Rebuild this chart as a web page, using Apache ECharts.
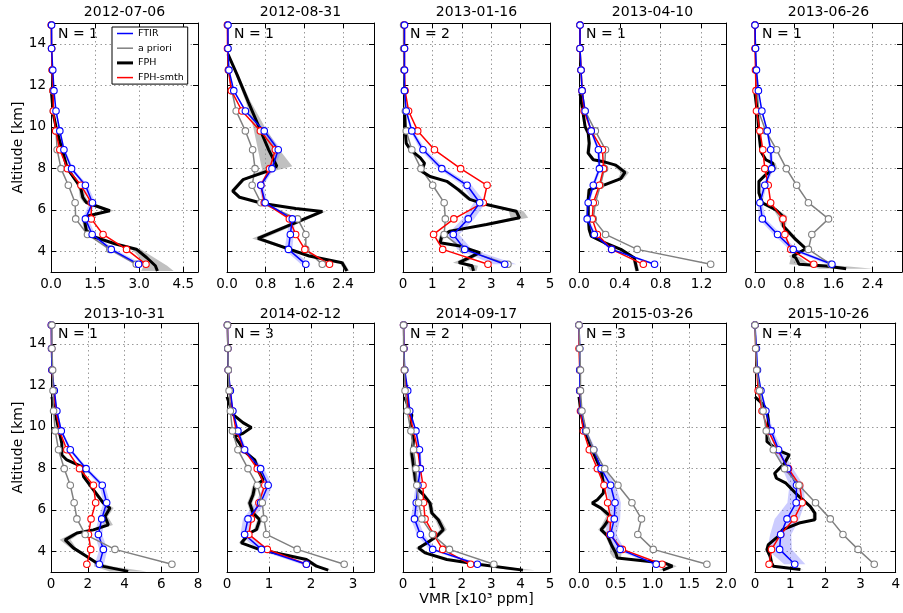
<!DOCTYPE html>
<html lang="en">
<head>
<meta charset="UTF-8">
<title>FTIR / FPH water vapour profiles</title>
<script src="https://cdn.jsdelivr.net/npm/echarts@6/dist/echarts.min.js"></script>
<style>
    html, body { margin: 0; padding: 0; background: #fff; }
    #chart { width: 903px; height: 613px; }
</style>
</head>
<body>
<div id="chart"></div>
<script>
// one entry per panel, left to right, top row then bottom row
var dates = ['2012-07-06', '2012-08-31', '2013-01-16', '2013-04-10', '2013-06-26',
             '2013-10-31', '2014-02-12', '2014-09-17', '2015-03-26', '2015-10-26'];
var nSondes = [1, 1, 2, 1, 1, 1, 3, 2, 3, 4];
var xMax = [5, 3.04, 5, 1.44, 3, 8, 3.5, 5, 2, 4];
var xStep = [1.5, 0.8, 1, 0.4, 0.8, 2, 1, 1, 0.5, 1];
var xDigits = [1, 1, 0, 1, 1, 0, 0, 0, 1, 0];

// retrieval levels [km]
var levels = [14.9, 13.77, 12.73, 11.74, 10.76, 9.8, 8.89, 7.98, 7.18, 6.34, 5.56, 4.81, 4.09, 3.37];

// VMR [x10^3 ppm] at each level
var ftirVals = [
    [0.02, 0.02, 0.06, 0.10, 0.17, 0.30, 0.44, 0.70, 1.17, 1.41, 1.17, 1.40, 2.05, 2.98],
    [0.02, 0.02, 0.04, 0.14, 0.38, 0.77, 1.06, 0.93, 0.70, 0.79, 1.35, 1.31, 1.27, 1.63],
    [0.05, 0.05, 0.05, 0.05, 0.11, 0.30, 0.68, 1.32, 2.18, 2.61, 2.22, 1.71, 2.10, 3.46],
    [0.01, 0.01, 0.02, 0.03, 0.06, 0.12, 0.19, 0.20, 0.14, 0.09, 0.08, 0.15, 0.32, 0.74],
    [0.00, 0.01, 0.03, 0.07, 0.14, 0.25, 0.32, 0.34, 0.20, 0.10, 0.15, 0.46, 0.78, 1.57],
    [0.02, 0.03, 0.05, 0.18, 0.32, 0.56, 1.05, 1.91, 2.79, 3.03, 2.76, 2.58, 2.85, 2.63],
    [0.01, 0.02, 0.03, 0.08, 0.14, 0.26, 0.42, 0.80, 0.98, 0.80, 0.50, 0.42, 0.82, 1.89],
    [0.02, 0.03, 0.06, 0.16, 0.23, 0.44, 0.56, 0.59, 0.51, 0.45, 0.39, 0.59, 1.01, 2.53],
    [0.00, 0.01, 0.01, 0.01, 0.03, 0.09, 0.20, 0.30, 0.43, 0.49, 0.48, 0.43, 0.56, 1.05],
    [0.00, 0.04, 0.07, 0.17, 0.31, 0.46, 0.67, 0.93, 1.18, 1.17, 0.91, 0.73, 0.70, 1.13]
];
var ftirErr = [
    [0, 0, 0, 0.01, 0.02, 0.03, 0.04, 0.06, 0.08, 0.10, 0.10, 0.10, 0.12, 0.15],
    [0, 0, 0, 0.01, 0.02, 0.04, 0.07, 0.05, 0.05, 0.05, 0.06, 0.07, 0.08, 0.10],
    [0, 0, 0, 0, 0.02, 0.05, 0.10, 0.12, 0.15, 0.20, 0.20, 0.20, 0.25, 0.40],
    [0, 0, 0, 0, 0.005, 0.01, 0.015, 0.015, 0.015, 0.015, 0.015, 0.02, 0.02, 0.03],
    [0, 0, 0, 0, 0.01, 0.02, 0.03, 0.04, 0.04, 0.05, 0.07, 0.08, 0.08, 0.10],
    [0, 0, 0, 0.02, 0.03, 0.05, 0.08, 0.12, 0.15, 0.18, 0.18, 0.20, 0.22, 0.25],
    [0, 0, 0, 0.01, 0.02, 0.03, 0.05, 0.08, 0.10, 0.12, 0.12, 0.10, 0.10, 0.12],
    [0, 0, 0, 0.01, 0.02, 0.03, 0.04, 0.06, 0.08, 0.10, 0.12, 0.12, 0.12, 0.15],
    [0, 0, 0, 0, 0.01, 0.02, 0.03, 0.05, 0.07, 0.08, 0.08, 0.08, 0.06, 0.06],
    [0, 0, 0, 0.02, 0.04, 0.06, 0.10, 0.15, 0.20, 0.25, 0.35, 0.30, 0.35, 0.30]
];
var aprioriVals = [
    [0.01, 0.02, 0.04, 0.06, 0.08, 0.17, 0.21, 0.34, 0.59, 0.82, 0.84, 1.24, 2.00, 2.90],
    [0.01, 0.02, 0.03, 0.10, 0.19, 0.38, 0.53, 0.58, 0.52, 0.70, 1.46, 1.63, 1.63, 1.97],
    [0.02, 0.02, 0.03, 0.05, 0.08, 0.11, 0.30, 0.61, 1.01, 1.40, 1.44, 1.40, 2.05, 3.57],
    [0.01, 0.01, 0.02, 0.03, 0.06, 0.16, 0.26, 0.25, 0.21, 0.16, 0.14, 0.26, 0.57, 1.29],
    [0.00, 0.01, 0.02, 0.05, 0.07, 0.22, 0.44, 0.64, 0.85, 1.09, 1.50, 1.16, 1.09, 1.55],
    [0.05, 0.05, 0.09, 0.11, 0.14, 0.23, 0.41, 0.72, 1.05, 1.26, 1.41, 1.86, 3.48, 6.58],
    [0.01, 0.02, 0.03, 0.05, 0.08, 0.13, 0.26, 0.50, 0.72, 0.84, 0.88, 0.94, 1.67, 2.79],
    [0.02, 0.02, 0.05, 0.07, 0.14, 0.27, 0.36, 0.44, 0.47, 0.53, 0.64, 1.00, 1.58, 3.09],
    [0.00, 0.01, 0.02, 0.02, 0.04, 0.10, 0.20, 0.35, 0.53, 0.72, 0.85, 0.80, 1.01, 1.74],
    [0.00, 0.02, 0.05, 0.13, 0.23, 0.32, 0.52, 0.84, 1.25, 1.72, 2.14, 2.50, 2.93, 3.39]
];
var smthVals = [
    [0.01, 0.02, 0.04, 0.07, 0.08, 0.16, 0.30, 0.56, 1.02, 1.37, 1.37, 1.77, 2.57, 3.23],
    [0.01, 0.01, 0.03, 0.09, 0.31, 0.69, 1.00, 0.88, 0.70, 0.77, 1.29, 1.42, 1.61, 2.12],
    [0.05, 0.05, 0.05, 0.07, 0.19, 0.50, 1.07, 1.96, 2.86, 2.73, 1.73, 1.04, 1.35, 2.89],
    [0.01, 0.01, 0.02, 0.03, 0.05, 0.12, 0.23, 0.24, 0.20, 0.14, 0.13, 0.18, 0.32, 0.63],
    [0.00, 0.00, 0.01, 0.02, 0.03, 0.10, 0.16, 0.20, 0.27, 0.32, 0.57, 0.61, 0.73, 1.20],
    [0.02, 0.03, 0.05, 0.15, 0.27, 0.47, 0.86, 1.55, 2.31, 2.43, 2.18, 2.04, 2.16, 1.95],
    [0.01, 0.02, 0.03, 0.07, 0.13, 0.22, 0.41, 0.72, 0.90, 0.76, 0.58, 0.52, 0.96, 1.89],
    [0.02, 0.03, 0.05, 0.12, 0.19, 0.36, 0.50, 0.59, 0.68, 0.70, 0.75, 1.04, 1.35, 2.30],
    [0.00, 0.00, 0.01, 0.01, 0.02, 0.06, 0.14, 0.25, 0.34, 0.39, 0.43, 0.42, 0.59, 1.13],
    [0.00, 0.02, 0.05, 0.09, 0.20, 0.38, 0.64, 0.95, 1.27, 1.34, 1.11, 0.73, 0.47, 0.40]
];

// FPH sonde profile: [vmr, altitude km, uncertainty]
var fphProfiles = [
    [[0.02, 11.6, 0.01], [0.08, 10.6, 0.02], [0.2, 9.8, 0.03], [0.38, 8.9, 0.04], [0.55, 8.0, 0.05],
     [0.9, 7.3, 0.06], [1.02, 7.0, 0.08], [1.08, 6.6, 0.1], [1.2, 6.35, 0.1], [2.0, 5.95, 0.15],
     [1.25, 5.7, 0.1], [1.15, 5.4, 0.08], [1.2, 5.0, 0.08], [1.45, 4.7, 0.08], [2.2, 4.35, 0.1],
     [2.9, 4.1, 0.15], [3.25, 3.7, 0.25], [3.55, 3.3, 0.4], [3.62, 3.05, 0.55]],
    [[0.02, 13.5, 0], [0.21, 12.5, 0.03], [0.44, 11.2, 0.05], [0.66, 10.0, 0.12], [0.86, 8.9, 0.22],
     [1.03, 8.1, 0.32], [0.88, 7.9, 0.15], [0.33, 7.45, 0.05], [0.12, 6.9, 0.05], [0.26, 6.6, 0.05],
     [0.74, 6.3, 0.05], [1.42, 6.06, 0.07], [1.97, 5.92, 0.08], [1.85, 5.8, 0.08], [0.64, 4.62, 0.12],
     [1.7, 3.77, 0.05], [2.38, 3.45, 0.05], [2.48, 3.05, 0.05]],
    [[0.05, 10.8, 0.02], [0.08, 9.7, 0.03], [0.11, 9.2, 0.03], [0.25, 8.9, 0.04], [0.59, 8.5, 0.05],
     [0.73, 8.25, 0.05], [0.64, 7.85, 0.05], [0.92, 7.6, 0.06], [1.49, 7.37, 0.08], [1.88, 6.97, 0.1],
     [2.27, 6.5, 0.1], [2.84, 6.25, 0.12], [3.85, 5.93, 0.25], [3.96, 5.61, 0.3], [2.84, 5.29, 0.15],
     [1.6, 4.97, 0.1], [1.32, 4.73, 0.08], [1.26, 4.41, 0.08], [1.94, 4.25, 0.1], [2.61, 3.93, 0.12],
     [1.9, 3.45, 0.2], [2.35, 3.3, 0.2], [2.4, 3.05, 0.1]],
    [[0.01, 11.6, 0.005], [0.04, 10.65, 0.005], [0.06, 10.0, 0.01], [0.09, 9.7, 0.01], [0.1, 9.2, 0.015],
     [0.09, 8.73, 0.02], [0.14, 8.41, 0.02], [0.23, 8.33, 0.02], [0.36, 8.15, 0.03], [0.45, 7.8, 0.04],
     [0.41, 7.5, 0.03], [0.25, 7.2, 0.02], [0.1, 6.97, 0.02], [0.09, 6.49, 0.015], [0.09, 5.69, 0.015],
     [0.1, 5.05, 0.015], [0.12, 4.73, 0.015], [0.25, 4.41, 0.015], [0.41, 4.09, 0.02], [0.54, 3.69, 0.02],
     [0.57, 3.05, 0.02]],
    [[0, 11.6, 0], [0.05, 10.65, 0.01], [0.08, 9.69, 0.01], [0.12, 8.81, 0.02], [0.22, 8.41, 0.04],
     [0.36, 8.25, 0.06], [0.39, 7.97, 0.07], [0.22, 7.69, 0.04], [0.08, 7.37, 0.02], [0.08, 6.81, 0.02],
     [0.15, 6.33, 0.03], [0.42, 6.01, 0.05], [0.56, 5.69, 0.1], [0.58, 5.21, 0.05], [0.83, 4.57, 0.05],
     [1.04, 4.12, 0.05], [0.77, 3.77, 0.08], [0.83, 3.69, 0.1], [0.9, 3.37, 0.2], [1.45, 3.29, 0.35],
     [1.86, 3.16, 0.55]],
    [[0.05, 11.44, 0.02], [0.23, 10.64, 0.03], [0.47, 9.68, 0.05], [0.59, 9.2, 0.06], [0.59, 8.64, 0.06],
     [0.86, 8.4, 0.08], [1.68, 8.08, 0.08], [1.77, 7.6, 0.08], [2.31, 6.96, 0.1], [2.85, 6.32, 0.12],
     [3.21, 6.08, 0.2], [2.94, 5.67, 0.15], [3.12, 5.27, 0.25], [2.31, 5.03, 0.2], [1.41, 4.88, 0.2],
     [0.77, 4.55, 0.3], [1.23, 4.15, 0.15], [1.95, 3.75, 0.12], [2.49, 3.43, 0.15], [2.85, 3.27, 0.5],
     [4.2, 3.03, 1.0]],
    [[0, 11.44, 0.01], [0.14, 10.6, 0.02], [0.38, 10.2, 0.03], [0.58, 9.96, 0.03], [0.38, 9.68, 0.03],
     [0.18, 9.52, 0.03], [0.3, 9.2, 0.04], [0.42, 8.8, 0.04], [0.66, 8.4, 0.05], [0.74, 7.92, 0.05],
     [0.86, 7.44, 0.05], [0.66, 7.12, 0.06], [0.62, 6.72, 0.06], [0.54, 6.32, 0.06], [0.62, 5.84, 0.06],
     [0.78, 5.52, 0.06], [0.7, 5.04, 0.06], [0.54, 4.88, 0.06], [0.34, 4.4, 0.06], [0.78, 4.08, 0.06],
     [1.34, 3.84, 0.06], [1.89, 3.6, 0.08], [2.13, 3.28, 0.08], [2.41, 3.09, 0.08]],
    [[0.05, 11.44, 0.02], [0.19, 10.96, 0.03], [0.3, 10.56, 0.04], [0.25, 10.0, 0.05], [0.36, 9.36, 0.06],
     [0.3, 8.72, 0.08], [0.36, 8.08, 0.08], [0.42, 7.44, 0.08], [0.53, 6.96, 0.08], [0.7, 6.72, 0.08],
     [0.92, 6.32, 0.08], [0.98, 5.84, 0.08], [1.2, 5.52, 0.1], [1.37, 5.04, 0.12], [1.15, 4.72, 0.1],
     [0.81, 4.4, 0.1], [0.53, 4.16, 0.1], [0.75, 3.92, 0.1], [1.49, 3.6, 0.1], [2.61, 3.36, 0.15],
     [4.08, 3.09, 0.4]],
    [[0, 11.44, 0], [0.03, 10.6, 0.005], [0.09, 9.68, 0.01], [0.2, 8.72, 0.015], [0.3, 7.92, 0.02],
     [0.34, 7.12, 0.02], [0.33, 6.8, 0.02], [0.25, 6.48, 0.02], [0.18, 6.32, 0.02], [0.3, 6.08, 0.03],
     [0.43, 5.68, 0.06], [0.34, 5.2, 0.04], [0.3, 5.04, 0.04], [0.39, 4.72, 0.03], [0.45, 4.24, 0.03],
     [0.5, 3.92, 0.08], [0.52, 3.68, 0.05], [0.93, 3.52, 0.05], [1.16, 3.44, 0.05], [1.27, 3.28, 0.06],
     [1.14, 3.09, 0.06]],
    [[0, 11.44, 0.01], [0.2, 11.12, 0.02], [0.34, 10.8, 0.03], [0.38, 10.32, 0.03], [0.34, 9.68, 0.03],
     [0.34, 9.28, 0.03], [0.52, 9.04, 0.04], [0.75, 8.8, 0.04], [0.97, 8.64, 0.05], [0.84, 8.24, 0.05],
     [0.56, 7.76, 0.05], [0.61, 7.52, 0.05], [0.88, 7.28, 0.05], [1.2, 6.72, 0.05], [1.57, 6.16, 0.05],
     [1.7, 5.84, 0.06], [1.7, 5.52, 0.06], [1.25, 5.36, 0.12], [0.79, 5.04, 0.08], [0.66, 4.72, 0.05],
     [0.38, 4.32, 0.05], [0.34, 4.08, 0.05], [0.43, 3.76, 0.05], [0.47, 3.44, 0.05], [0.52, 3.28, 0.06],
     [1.29, 3.12, 0.1]]
];

var FONT = 'DejaVu Sans';
var gridLefts = [51, 227, 403, 579, 755];
var gridTops = [23, 323];
var gridW = 147, gridH = 249;

function frame() { return { show: true, onZero: false, lineStyle: { color: '#000', width: 1 } }; }
function ticksIn() { return { show: true, inside: true, length: 5, lineStyle: { color: '#000' } }; }
function dotted() { return { show: true, lineStyle: { type: [1.5, 3], color: '#999', width: 1 } }; }

// shaded uncertainty band, one polygon through the axis scales
function bandSeries(i, pts, color) {
    return {
        type: 'custom',
        xAxisIndex: 2 * i,
        yAxisIndex: 2 * i,
        silent: true,
        z: 1,
        data: pts.map(function (p) { return [p[0], p[1]]; }),
        renderItem: function (params, api) {
            if (params.dataIndex !== 0) return null;
            var lo = [], hi = [];
            for (var k = 0; k < pts.length; k++) {
                var a = api.coord([Math.max(0, pts[k][0] - pts[k][2]), pts[k][1]]);
                var b = api.coord([pts[k][0] + pts[k][2], pts[k][1]]);
                lo.push([a[0], a[1]]);
                hi.unshift([b[0], b[1]]);
            }
            return { type: 'polygon', shape: { points: lo.concat(hi) }, style: { fill: color } };
        }
    };
}

// line with white-filled circle markers
function profileSeries(i, name, color, vals) {
    return {
        name: name,
        type: 'line',
        xAxisIndex: 2 * i,
        yAxisIndex: 2 * i,
        data: vals.map(function (v, k) { return [v, levels[k]]; }),
        symbol: 'circle',
        symbolSize: 6.5,
        lineStyle: { color: color, width: 1.5 },
        itemStyle: { color: '#fff', borderColor: color, borderWidth: 1.1 },
        z: 2
    };
}

function labelFormatter(d) {
    return function (v) { return Number(v).toFixed(d); };
}

var grids = [], xAxes = [], yAxes = [], series = [], texts = [];

for (var i = 0; i < dates.length; i++) {
    var col = i % 5, row = Math.floor(i / 5);
    var gLeft = gridLefts[col], gTop = gridTops[row];
    grids.push({ left: gLeft, top: gTop, width: gridW, height: gridH });

    var onTick = Math.abs(xMax[i] / xStep[i] - Math.round(xMax[i] / xStep[i])) < 1e-6;
    xAxes.push({
        type: 'value', gridIndex: i, position: 'bottom',
        min: 0, max: xMax[i], interval: xStep[i],
        axisLine: frame(), axisTick: ticksIn(), splitLine: dotted(),
        axisLabel: {
            color: '#000', fontFamily: FONT, fontSize: 13.5, margin: 5,
            showMinLabel: true, showMaxLabel: onTick,
            formatter: labelFormatter(xDigits[i])
        },
        name: i === 7 ? 'VMR [x10\u00b3 ppm]' : '',
        nameLocation: 'middle', nameGap: 19,
        nameTextStyle: { color: '#000', fontFamily: FONT, fontSize: 14 }
    });
    xAxes.push({
        type: 'value', gridIndex: i, position: 'top',
        min: 0, max: xMax[i], interval: xStep[i],
        axisLine: frame(), axisTick: ticksIn(), splitLine: { show: false }, axisLabel: { show: false }
    });
    yAxes.push({
        type: 'value', gridIndex: i, position: 'left',
        min: 3, max: 15, splitNumber: 6,
        axisLine: frame(), axisTick: ticksIn(), splitLine: dotted(),
        axisLabel: {
            show: col === 0, color: '#000', fontFamily: FONT, fontSize: 13.5, margin: 5,
            showMinLabel: false, showMaxLabel: false
        },
        name: col === 0 ? 'Altitude [km]' : '',
        nameLocation: 'middle', nameGap: 22, nameRotate: 90,
        nameTextStyle: { color: '#000', fontFamily: FONT, fontSize: 14 }
    });
    yAxes.push({
        type: 'value', gridIndex: i, position: 'right',
        min: 3, max: 15, splitNumber: 6,
        axisLine: frame(), axisTick: ticksIn(), splitLine: { show: false }, axisLabel: { show: false }
    });

    var ftirBand = ftirVals[i].map(function (v, k) { return [v, levels[k], ftirErr[i][k]]; });
    series.push(bandSeries(i, fphProfiles[i], 'rgba(140,140,140,0.55)'));
    series.push(bandSeries(i, ftirBand, 'rgba(110,110,255,0.35)'));

    var apr = profileSeries(i, 'a priori', '#808080', aprioriVals[i]);
    var fphLine = {
        name: 'FPH', type: 'line', xAxisIndex: 2 * i, yAxisIndex: 2 * i,
        data: fphProfiles[i].map(function (p) { return [p[0], p[1]]; }),
        symbol: 'none', lineStyle: { color: '#000', width: 3 }, itemStyle: { color: '#000' }, z: 2
    };
    var smth = profileSeries(i, 'FPH-smth', '#ff0000', smthVals[i]);
    var ftir = profileSeries(i, 'FTIR', '#0000ff', ftirVals[i]);
    if (row === 0) series.push(apr, fphLine, smth, ftir);
    else series.push(fphLine, smth, ftir, apr);

    texts.push({
        type: 'text', x: gLeft + gridW / 2, y: row === 0 ? 12.5 : 314,
        style: { text: dates[i], fill: '#000', fontSize: 14, fontFamily: FONT, align: 'center', verticalAlign: 'middle' }
    });
    texts.push({
        type: 'text', x: gLeft + 7, y: gTop + 11,
        style: { text: 'N = ' + nSondes[i], fill: '#000', fontSize: 14, fontFamily: FONT, align: 'left', verticalAlign: 'middle' }
    });
}

var chart = echarts.init(document.getElementById('chart'));
chart.setOption({
    animation: false,
    backgroundColor: '#fff',
    grid: grids,
    xAxis: xAxes,
    yAxis: yAxes,
    series: series,
    graphic: texts,
    legend: {
        left: 112, top: 27, orient: 'vertical',
        itemWidth: 16, itemHeight: 4, itemGap: 3.7,
        selectedMode: false,
        backgroundColor: '#fff', borderColor: '#000', borderWidth: 1, borderRadius: 0,
        padding: [1, 4, 1, 5],
        textStyle: { color: '#000', fontFamily: FONT, fontSize: 9.5, lineHeight: 11 },
        data: [
            { name: 'FTIR', icon: 'path://M0,0H16V1.5H0Z', itemStyle: { color: '#0000ff', borderWidth: 0 } },
            { name: 'a priori', icon: 'path://M0,0H16V1.5H0Z', itemStyle: { color: '#808080', borderWidth: 0 } },
            { name: 'FPH', icon: 'path://M0,0H16V3H0Z', itemStyle: { color: '#000', borderWidth: 0 } },
            { name: 'FPH-smth', icon: 'path://M0,0H16V1.5H0Z', itemStyle: { color: '#ff0000', borderWidth: 0 } }
        ]
    }
});
</script>
</body>
</html>
